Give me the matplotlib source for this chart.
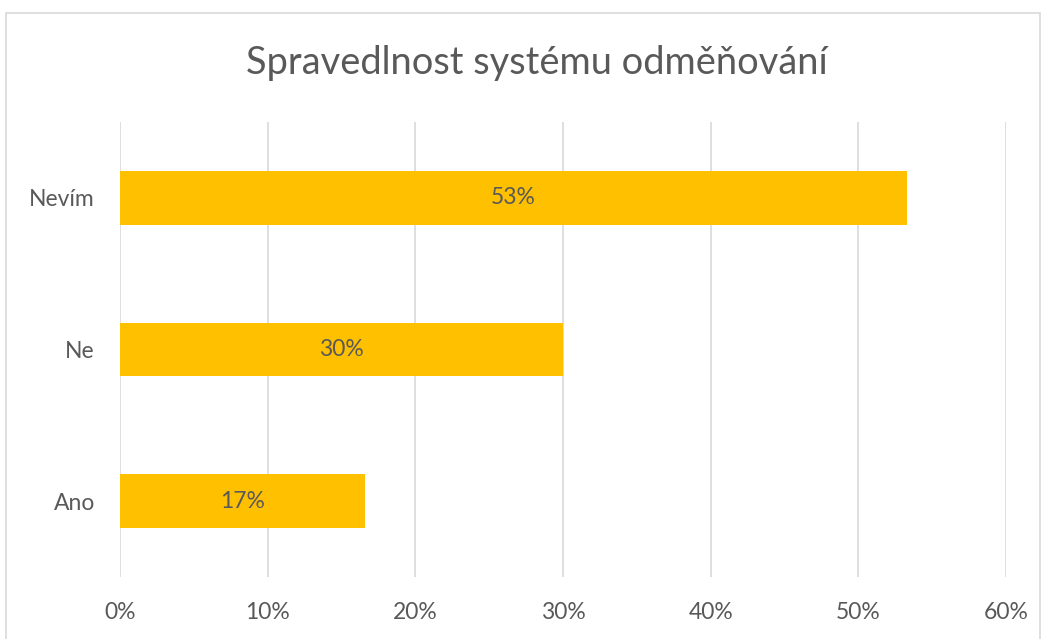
import matplotlib.pyplot as plt
from matplotlib.patches import Rectangle

categories = ['Ano', 'Ne', 'Nevím']
values = [0.166, 0.300, 0.533]
labels = ['17%', '30%', '53%']
xticks = [0, 0.1, 0.2, 0.3, 0.4, 0.5, 0.6]

plt.rcParams['font.family'] = ['Lato', 'DejaVu Sans']
text_col = '#595959'

fig = plt.figure(figsize=(10.48, 6.39), dpi=100)
ax = fig.add_axes([0.1145, 0.097, 0.8455, 0.712])

# outer chart border (bottom edge is cut off in the original)
fig.patches.append(Rectangle((6 / 1048, -0.05), 1034 / 1048, (639 - 13) / 639 + 0.05,
                             transform=fig.transFigure, fill=False,
                             edgecolor='#d9d9d9', linewidth=1.2))

y = range(len(categories))
ax.barh(y, values, height=0.355, color='#FFC000', zorder=2)
for i, (v, lab) in enumerate(zip(values, labels)):
    ax.text(v / 2, i, lab, ha='center', va='center', fontsize=16.5, color=text_col, zorder=3)

ax.set_xlim(0, 0.6)
ax.set_ylim(-0.5, 2.5)
ax.set_xticks(xticks)
ax.set_xticklabels([f'{int(round(t * 100))}%' for t in xticks], fontsize=16.5, color=text_col)
ax.set_yticks(list(y))
ax.set_yticklabels(categories, fontsize=16.5, color=text_col)
ax.tick_params(length=0)
ax.tick_params(axis='x', pad=18)
ax.tick_params(axis='y', pad=18)
ax.grid(axis='x', color='#d9d9d9', linewidth=1.2, zorder=0)
for s in ax.spines.values():
    s.set_visible(False)

fig.text(537 / 1048, 1 - 63 / 639, 'Spravedlnost systému odměňování', ha='center', va='center',
         fontsize=27.4, color=text_col)

fig.savefig('out.png', dpi=100)
